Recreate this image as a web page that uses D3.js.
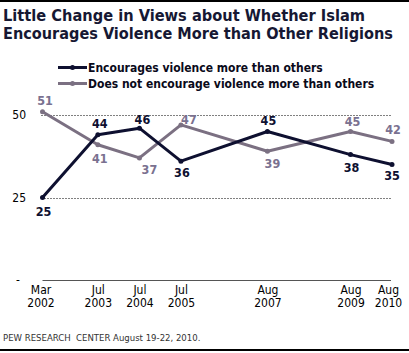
<!DOCTYPE html>
<html>
<head>
<meta charset="utf-8">
<script src="https://cdn.jsdelivr.net/npm/d3@7"></script>
<style>
  body { margin: 0; background: #fff; }
  text { font-family: "DejaVu Sans Condensed", "DejaVu Sans", sans-serif; }
</style>
</head>
<body>
<div id="chart"></div>
<script>
const surveyDates = ["2002-03", "2003-07", "2004-07", "2005-07", "2007-08", "2009-08", "2010-08"];
const monthLabels = ["Mar", "Jul", "Jul", "Jul", "Aug", "Aug", "Aug"];
const yearLabels = ["2002", "2003", "2004", "2005", "2007", "2009", "2010"];
const encourages = [25, 44, 46, 36, 45, 38, 35];
const doesNot = [51, 41, 37, 47, 39, 45, 42];
const yTickValues = [0, 25, 50];
const yTickLabels = ["-", "25", "50"];
const seriesNames = ["Encourages violence more than others", "Does not encourage violence more than others"];

// value label offsets from their points (x, baseline)
const encouragesLabelDx = [1, 2, 3, 1, 1, 1, 0];
const encouragesLabelDy = [18, -7, -4, 16, -7, 17, 15];
const doesNotLabelDx = [2.5, 2, 10, 8, 5, 2, 1];
const doesNotLabelDy = [-7, 18, 16, -1, 17, -6, -7];

const width = 409;
const height = 353;
const navy = "#0e1030";
const mauve = "#7b7082";

const parse = d3.timeParse("%Y-%m");
const dates = surveyDates.map(parse);

const svg = d3.select("#chart").append("svg")
  .attr("width", width)
  .attr("height", height);

const x = d3.scaleTime()
  .domain([dates[0], dates[dates.length - 1]])
  .range([42.5, 392]);
const y = d3.scaleLinear()
  .domain([0, 50])
  .range([280, 115]);

// rules top and bottom
svg.append("rect").attr("x", 0).attr("y", 0).attr("width", width).attr("height", 2).attr("fill", "#000");
svg.append("rect").attr("x", 0).attr("y", 349).attr("width", width).attr("height", 2).attr("fill", "#000");

// title
const title = svg.append("g").attr("fill", "#161833").attr("font-weight", "bold").attr("font-size", 15.5);
title.append("text").attr("x", 3).attr("y", 21).attr("textLength", 362).attr("lengthAdjust", "spacingAndGlyphs")
  .text("Little Change in Views about Whether Islam");
title.append("text").attr("x", 3).attr("y", 39).attr("textLength", 390).attr("lengthAdjust", "spacingAndGlyphs")
  .text("Encourages Violence More than Other Religions");

// legend
const legend = svg.append("g");
[navy, mauve].forEach((c, i) => {
  const ly = 67.5 + i * 16;
  legend.append("line").attr("x1", 58).attr("x2", 87).attr("y1", ly).attr("y2", ly)
    .attr("stroke", c).attr("stroke-width", 3);
  legend.append("circle").attr("cx", 72.5).attr("cy", ly).attr("r", 2.5).attr("fill", c);
  legend.append("text").attr("x", 88).attr("y", ly + 4)
    .attr("font-size", 12).attr("font-weight", "bold").attr("fill", "#0a0a1a")
    .text(seriesNames[i]);
});

// grid lines
svg.append("g").selectAll("line")
  .data(yTickValues.filter((d) => d > 0))
  .join("line")
  .attr("x1", x(dates[0]) - 1)
  .attr("x2", 391)
  .attr("y1", (d) => Math.round(y(d)) + 0.5)
  .attr("y2", (d) => Math.round(y(d)) + 0.5)
  .attr("stroke", "#000")
  .attr("stroke-dasharray", "1,2");

// y axis labels
const yAxis = svg.append("g")
  .attr("transform", "translate(26, 0)")
  .call(d3.axisLeft(y).tickValues(yTickValues).tickSize(0).tickPadding(0)
    .tickFormat((d, i) => yTickLabels[i]));
yAxis.select(".domain").remove();
yAxis.selectAll("text")
  .attr("font-size", 12)
  .attr("fill", "#000")
  .attr("font-family", "\"DejaVu Sans Condensed\", \"DejaVu Sans\", sans-serif")
  .attr("dx", (d) => (d === 0 ? -6 : 0));

// x axis
const xAxis = svg.append("g")
  .attr("transform", "translate(0, 280.5)")
  .call(d3.axisBottom(x).tickValues(dates).tickSize(0).tickFormat(() => ""));
xAxis.select(".domain").attr("stroke", "#555").attr("d", `M${x(dates[0])},0H391`);
const xt = xAxis.selectAll(".tick text")
  .attr("y", null)
  .attr("dy", null)
  .attr("font-size", 12)
  .attr("fill", "#000")
  .attr("font-family", "\"DejaVu Sans Condensed\", \"DejaVu Sans\", sans-serif");
const nudge = (i) => (i === 0 ? -2 : i === dates.length - 1 ? -4 : 0);
xt.append("tspan").attr("x", (d, i) => nudge(i)).attr("y", 13).text((d, i) => monthLabels[i]);
xt.append("tspan").attr("x", (d, i) => nudge(i)).attr("y", 26).text((d, i) => yearLabels[i]);

// series
const line = d3.line().x((d, i) => x(dates[i])).y((d) => y(d));
const series = [
  { values: doesNot, color: mauve, labelColor: "#7a7190", dx: doesNotLabelDx, dy: doesNotLabelDy },
  { values: encourages, color: navy, labelColor: "#0e1030", dx: encouragesLabelDx, dy: encouragesLabelDy },
];
series.forEach((s) => {
  const g = svg.append("g");
  g.append("path").datum(s.values)
    .attr("d", line)
    .attr("fill", "none")
    .attr("stroke", s.color)
    .attr("stroke-width", 3)
    .attr("stroke-linejoin", "round");
  g.selectAll("circle").data(s.values).join("circle")
    .attr("cx", (d, i) => x(dates[i]))
    .attr("cy", (d) => y(d))
    .attr("r", 2.5)
    .attr("fill", s.color);
  g.selectAll("text").data(s.values).join("text")
    .attr("x", (d, i) => x(dates[i]) + s.dx[i])
    .attr("y", (d, i) => y(d) + s.dy[i])
    .attr("text-anchor", "middle")
    .attr("font-size", 12.5)
    .attr("font-weight", "bold")
    .attr("fill", s.labelColor)
    .text((d) => d);
});

// source
svg.append("text")
  .attr("x", 3).attr("y", 341)
  .attr("font-size", 9.5)
  .attr("fill", "#333")
  .attr("font-family", "\"DejaVu Sans\", sans-serif")
  .attr("xml:space", "preserve")
  .text("PEW RESEARCH  CENTER August 19-22, 2010.");
</script>
</body>
</html>
